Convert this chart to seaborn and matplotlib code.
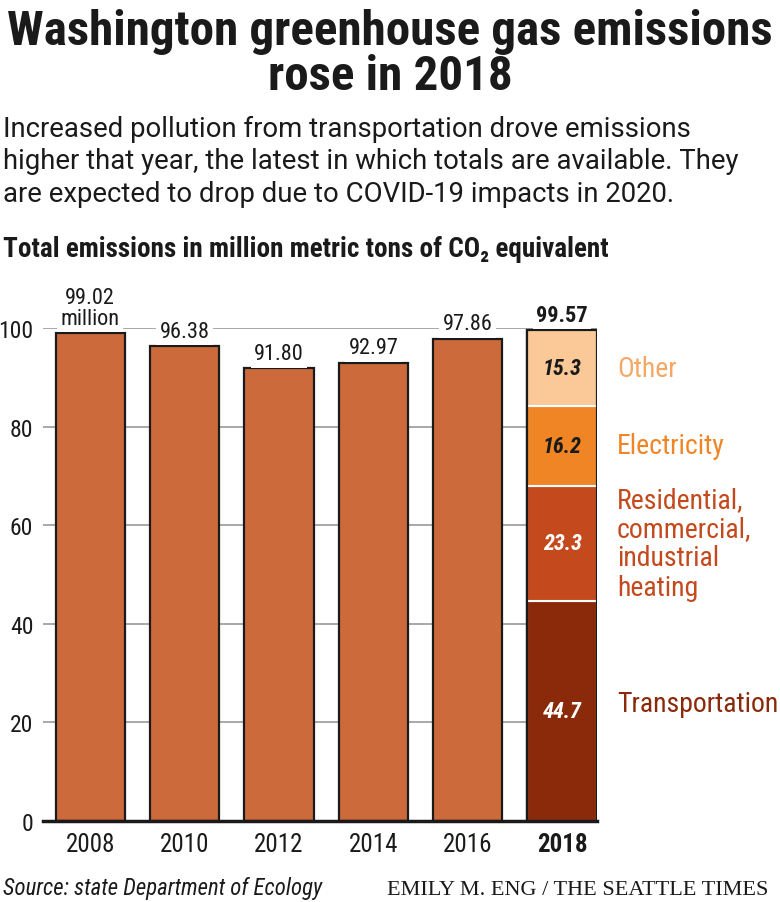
import numpy as np
import pandas as pd
import matplotlib
matplotlib.use("Agg")
import matplotlib.pyplot as plt
import seaborn as sns

# data
years = ["2008", "2010", "2012", "2014", "2016", "2018"]
totals = [99.02, 96.38, 91.80, 92.97, 97.86, 99.57]
total_labels = ["99.02\nmillion", "96.38", "91.80", "92.97", "97.86", "99.57"]

sectors = ["Transportation", "Residential,\ncommercial,\nindustrial\nheating", "Electricity", "Other"]
sector_values = [44.7, 23.3, 16.2, 15.3]
sector_colors = ["#8a2a0b", "#c44a1e", "#f08526", "#fbc997"]
sector_text_colors = ["#8a2a0b", "#c44a1e", "#f08526", "#f5a866"]
sector_value_colors = ["white", "white", "#1a1a1a", "#1a1a1a"]

bar_color = "#cd6a3c"
ink = "#1a1a1a"

sns.set_style("white")
plt.rcParams["font.family"] = ["Roboto Condensed", "DejaVu Sans"]

W, H = 780, 903
fig = plt.figure(figsize=(W / 100, H / 100), dpi=100)

# axes placement in pixels
left, right, top, bottom = 43, 597, 329, 822
ax = fig.add_axes([left / W, 1 - bottom / H, (right - left) / W, (bottom - top) / H])

df = pd.DataFrame({"year": years, "total": totals})
palette = {y: bar_color for y in years}
palette["2018"] = "white"
sns.barplot(data=df, x="year", y="total", hue="year", palette=palette, legend=False,
            width=0.735, edgecolor=ink, linewidth=1.6, saturation=1, ax=ax, zorder=3)

# stacked 2018 bar
x18 = years.index("2018")
bottoms = np.concatenate([[0], np.cumsum(sector_values)[:-1]])
ax.bar(x18, sector_values, bottom=bottoms, width=0.735, color=sector_colors,
       edgecolor="white", linewidth=1.5, zorder=4)
ax.bar(x18, totals[x18], width=0.735, fill=False, edgecolor=ink, linewidth=1.6, zorder=5)

for i, (val, b) in enumerate(zip(sector_values, bottoms)):
    ax.text(x18, b + val / 2, f"{val}", ha="center", va="center", fontsize=16,
            fontstyle="italic", fontweight="bold", color=sector_value_colors[i], zorder=6)
    ax.text(x18 + 0.58, b + val / 2 + (1.5 if i == 0 else 0), sectors[i], ha="left", va="center",
            fontsize=20, color=sector_text_colors[i], linespacing=1.11, clip_on=False)

# total labels above bars
for i, (t, lab) in enumerate(zip(totals, total_labels)):
    ax.annotate(lab, (i, t), xytext=(0, 3), textcoords="offset points", ha="center", va="bottom",
                fontsize=16, fontweight="bold" if years[i] == "2018" else "normal",
                color=ink, linespacing=0.95, zorder=6,
                bbox=dict(boxstyle="square,pad=0.15", fc="white", ec="none"))

ax.set_xlim(-0.5, 5.37)
ax.set_ylim(0, 100)
ax.set_yticks([0, 20, 40, 60, 80, 100])
ax.yaxis.grid(True, color="#9a9a9a", linewidth=1.2, zorder=0)
ax.set_axisbelow(True)
ax.set_xlabel("")
ax.set_ylabel("")
for s in ["top", "right", "left"]:
    ax.spines[s].set_visible(False)
ax.spines["bottom"].set_color(ink)
ax.spines["bottom"].set_linewidth(2.5)
ax.spines["bottom"].set_zorder(7)
ax.tick_params(axis="y", length=0, labelsize=17, pad=7, colors=ink)
ax.tick_params(axis="x", length=0, labelsize=18, pad=8, colors=ink)
for lab in ax.get_xticklabels():
    lab.set_fontweight("bold" if lab.get_text() == "2018" else "normal")

# titles
fig.text(0.5, 1 - 45 / H, "Washington greenhouse gas emissions", ha="center", va="baseline",
         fontsize=35.3, fontweight="heavy", color=ink)
fig.text(0.5, 1 - 90 / H, "rose in 2018", ha="center", va="baseline",
         fontsize=35.3, fontweight="heavy", color=ink)
sub = ["Increased pollution from transportation drove emissions",
       "higher that year, the latest in which totals are available. They",
       "are expected to drop due to COVID-19 impacts in 2020."]
for k, line in enumerate(sub):
    fig.text(3 / W, 1 - (137 + 32.5 * k) / H, line, ha="left", va="baseline",
             fontsize=19.8, family=["Roboto", "DejaVu Sans"], color=ink)
fig.text(3 / W, 1 - 257 / H, "Total emissions in million metric tons of CO₂ equivalent",
         ha="left", va="baseline", fontsize=19.5, fontweight="bold", color=ink)

# footer
fig.text(3 / W, 1 - 895 / H, "Source: state Department of Ecology", ha="left", va="baseline",
         fontsize=16.4, fontstyle="italic", color=ink)
fig.text(768 / W, 1 - 895 / H, "EMILY M. ENG / THE SEATTLE TIMES", ha="right", va="baseline",
         fontsize=16, family=["Liberation Serif", "DejaVu Serif"], color=ink)

fig.savefig("out.png", dpi=100)
